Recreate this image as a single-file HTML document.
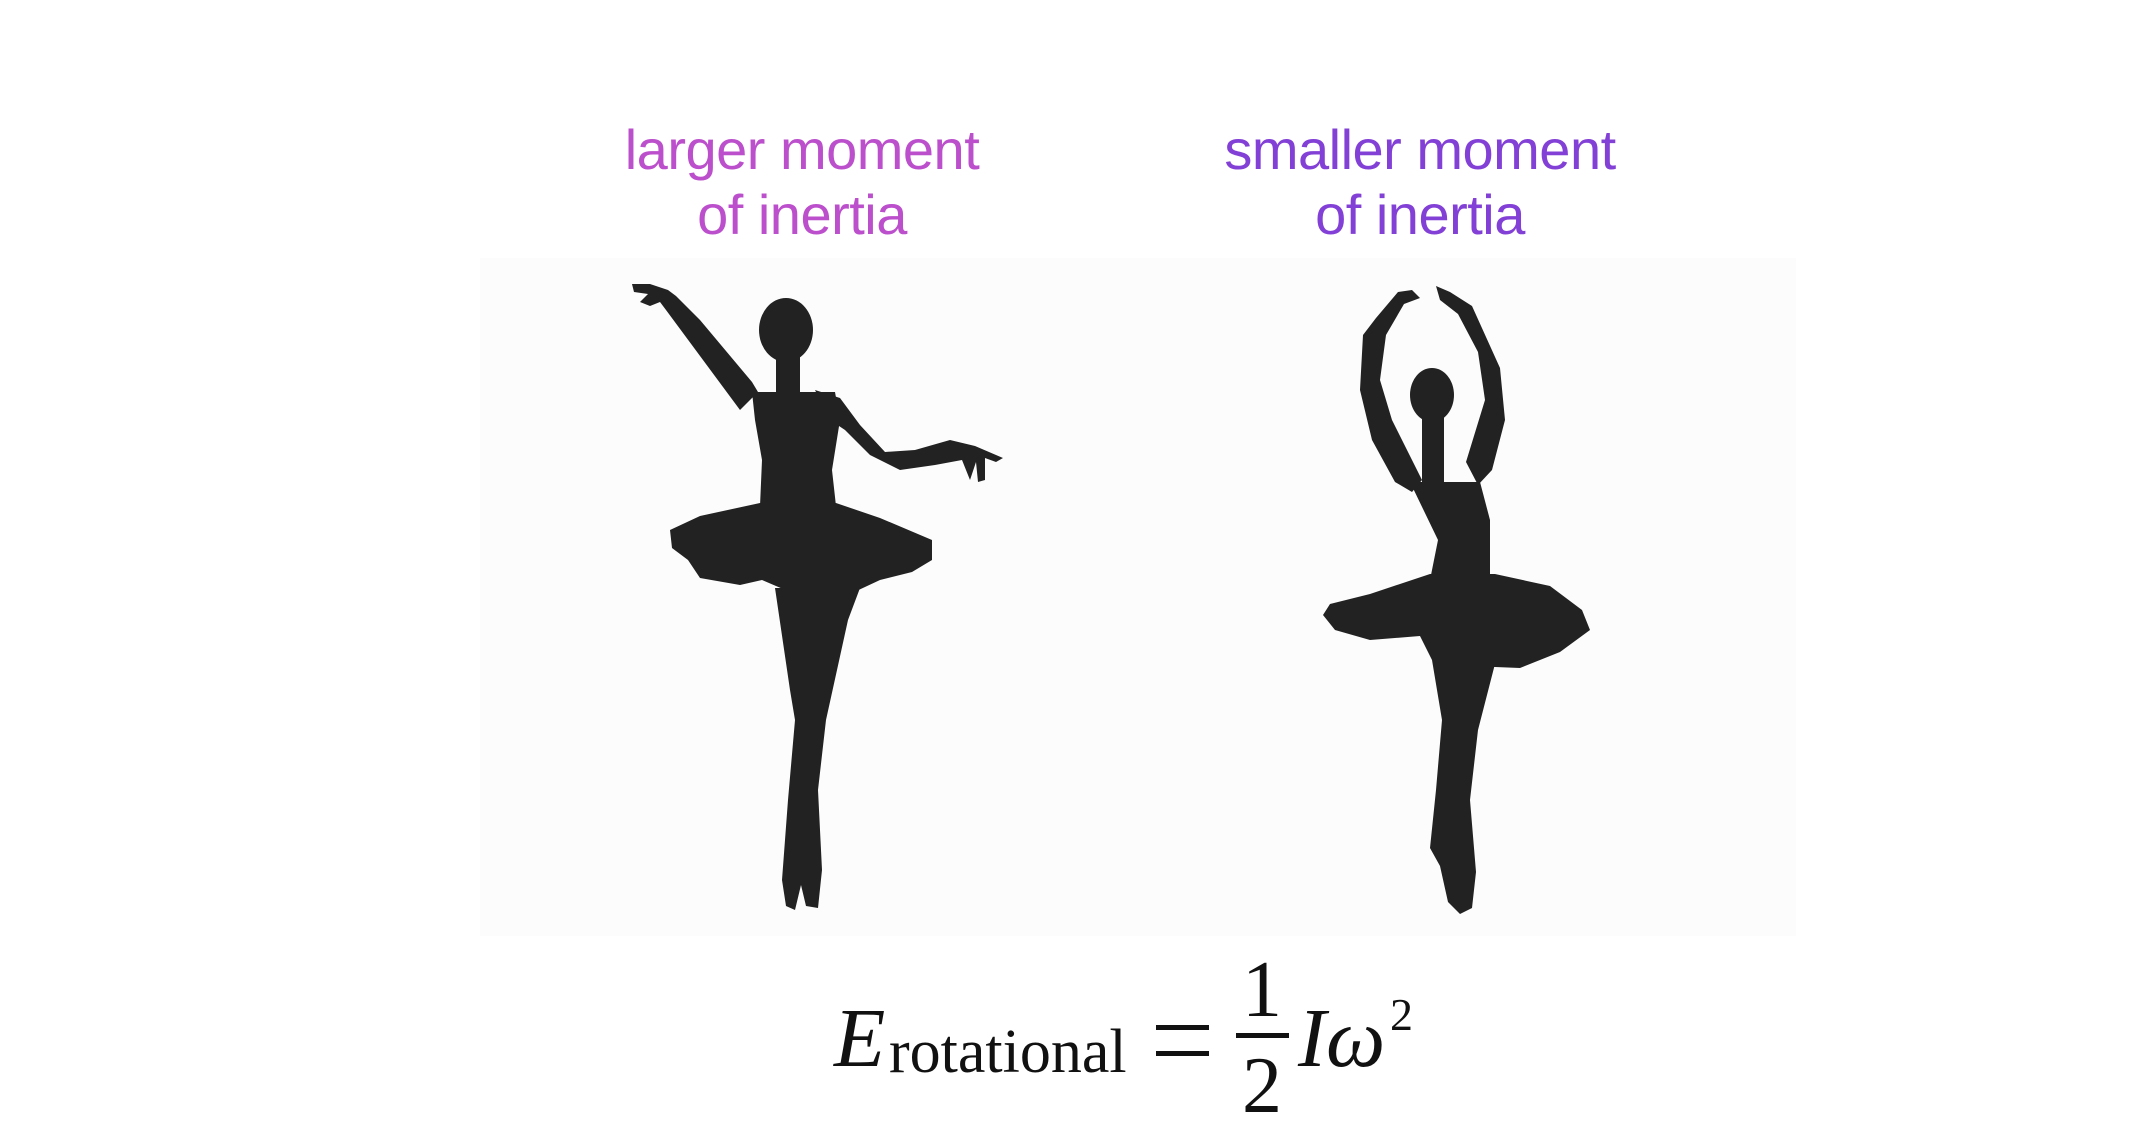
<!DOCTYPE html>
<html><head><meta charset="utf-8"><style>
html,body{margin:0;padding:0;background:#fff;}
#root{position:relative;width:2150px;height:1140px;overflow:hidden;background:#fff;}
.t{position:absolute;font-family:"Liberation Sans",sans-serif;font-size:56px;line-height:65px;text-align:center;width:600px;letter-spacing:-0.5px;}
.m{position:absolute;font-family:"Liberation Serif",serif;color:#111;line-height:1;white-space:nowrap;}
</style></head><body>
<div id="root">
<div style="position:absolute;left:480px;top:258px;width:1316px;height:678px;background:#fcfcfc;"></div>
<div class="t" style="left:502px;top:117px;color:#bb4fcc;">larger moment<br>of inertia</div>
<div class="t" style="left:1120px;top:117px;color:#8340d6;">smaller moment<br>of inertia</div>
<svg width="2150" height="1140" style="position:absolute;left:0;top:0">
<g fill="#222">
<ellipse cx="786" cy="330" rx="27" ry="32"/>
<rect x="776" y="350" width="24" height="45"/>
<path d="M758,392 L752,382 L700,320 L676,296 L668,290 L650,284 L632,284 L634,292 L648,294 L640,302 L650,306 L660,302 L666,310 L740,410 Z"/>
<path d="M815,390 L840,398 L860,425 L885,452 L915,450 L950,440 L975,446 L1003,458 L996,462 L985,458 L985,480 L978,482 L976,462 L970,480 L962,460 L935,465 L900,470 L870,455 L845,430 L830,420 Z"/>
<path d="M752,392 L835,392 L840,420 L832,470 L836,506 L760,506 L762,460 L755,420 Z"/>
<path d="M760,503 L700,516 L670,530 L672,548 L688,560 L700,578 L740,585 L762,580 L790,592 L850,594 L880,580 L912,572 L932,560 L932,540 L880,518 L836,503 Z"/>
<path d="M775,588 L790,690 L795,720 L788,800 L782,880 L786,906 L795,910 L801,885 L806,906 L818,908 L822,870 L818,790 L826,720 L848,620 L860,588 Z"/>
</g>
<g fill="#222">
<ellipse cx="1432" cy="395" rx="22" ry="27"/>
<rect x="1422" y="410" width="22" height="75"/>
<path d="M1412,290 L1398,292 L1376,318 L1363,335 L1360,390 L1372,440 L1395,482 L1412,492 L1422,480 L1392,420 L1380,380 L1386,335 L1404,304 L1420,298 Z"/>
<path d="M1436,286 L1450,292 L1472,306 L1500,368 L1505,420 L1492,470 L1478,485 L1466,462 L1485,400 L1478,352 L1458,314 L1440,300 Z"/>
<path d="M1410,482 L1480,482 L1490,520 L1490,578 L1430,580 L1438,540 Z"/>
<path d="M1430,574 L1370,594 L1330,604 L1323,615 L1335,630 L1370,640 L1420,636 L1470,666 L1520,668 L1560,652 L1590,630 L1582,610 L1550,586 L1495,574 Z"/>
<path d="M1420,636 L1432,660 L1442,720 L1436,790 L1430,848 L1440,866 L1448,902 L1460,914 L1472,908 L1476,872 L1470,800 L1478,730 L1496,660 L1500,640 Z"/>
</g>
</svg>
<div>
<div class="m" style="left:834px;top:997px;font-size:84px;font-style:italic;">E</div>
<div class="m" style="left:889px;top:1021px;font-size:62px;">rotational</div>
<div style="position:absolute;left:1156px;top:1025px;width:53px;height:5px;background:#111;"></div>
<div style="position:absolute;left:1156px;top:1051px;width:53px;height:5px;background:#111;"></div>
<div class="m" style="left:1242px;top:950px;font-size:80px;">1</div>
<div style="position:absolute;left:1236px;top:1033px;width:53px;height:5px;background:#111;"></div>
<div class="m" style="left:1242px;top:1046px;font-size:80px;">2</div>
<div class="m" style="left:1298px;top:997px;font-size:84px;font-style:italic;">Iω</div>
<div class="m" style="left:1390px;top:992px;font-size:46px;">2</div>
</div>
</div>
</body></html>
